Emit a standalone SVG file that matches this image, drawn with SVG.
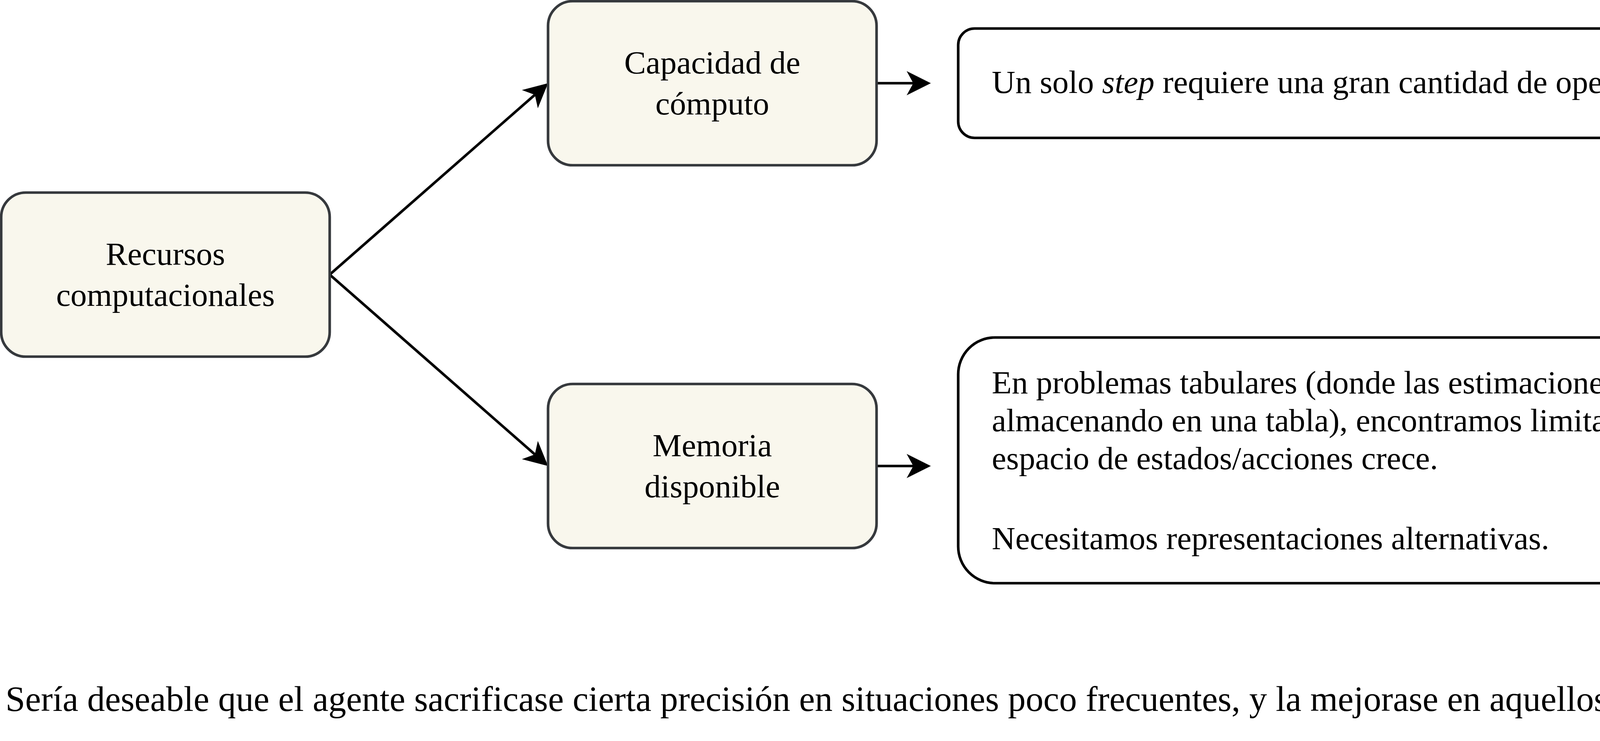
<svg xmlns="http://www.w3.org/2000/svg" width="5187" height="1897" viewBox="0 0 5187 1897">
  <style>
    .node rect { fill: #f9f7ed; stroke: #36393d; stroke-width: 6.7; }
    .note rect { fill: #ffffff; stroke: #000000; stroke-width: 6.7; }
    text { font-family: "Liberation Serif", "Times New Roman", serif; fill: #000000; }
    .nt { font-size: 83.3px; text-anchor: middle; }
    .bt { font-size: 83.3px; }
    .ft { font-size: 90.8px; }
    .edge { fill: none; stroke: #000000; stroke-width: 6.7; }
  </style>
  <defs>
    <marker id="arrow" markerUnits="userSpaceOnUse" viewBox="0 0 62 62" markerWidth="62" markerHeight="62" refX="17" refY="31" orient="auto">
      <path d="M62,31 L0,0 L17,31 L0,62 Z" fill="#000000"/>
    </marker>
  </defs>
  <rect x="0" y="0" width="5187" height="1897" fill="#ffffff"/>

  <g id="connectors">
    <line class="edge" x1="844" y1="703" x2="1369.2" y2="242.7" marker-end="url(#arrow)"/>
    <line class="edge" x1="844" y1="703" x2="1369.2" y2="1163.3" marker-end="url(#arrow)"/>
    <line class="edge" x1="2244" y1="213" x2="2338" y2="213" marker-end="url(#arrow)"/>
    <line class="edge" x1="2244" y1="1193" x2="2338" y2="1193" marker-end="url(#arrow)"/>
  </g>

  <g id="node-recursos" class="node">
    <rect x="3" y="493" width="841" height="420" rx="63" ry="63"/>
    <text class="nt"><tspan x="423.5" y="678">Recursos</tspan><tspan x="423.5" y="783">computacionales</tspan></text>
  </g>

  <g id="node-capacidad" class="node">
    <rect x="1403" y="3" width="841" height="420" rx="63" ry="63"/>
    <text class="nt"><tspan x="1823.5" y="188">Capacidad de</tspan><tspan x="1823.5" y="293">cómputo</tspan></text>
  </g>

  <g id="node-memoria" class="node">
    <rect x="1403" y="983" width="841" height="420" rx="63" ry="63"/>
    <text class="nt"><tspan x="1823.5" y="1168">Memoria</tspan><tspan x="1823.5" y="1273">disponible</tspan></text>
  </g>

  <g id="note-computo" class="note">
    <rect x="2453" y="73" width="2590" height="280" rx="42" ry="42"/>
    <text class="bt" x="2539" y="238">Un solo <tspan font-style="italic">step</tspan> requiere una gran cantidad de operaciones.</text>
  </g>

  <g id="note-memoria" class="note">
    <rect x="2453" y="864" width="2590" height="629" rx="94" ry="94"/>
    <text class="bt">
      <tspan x="2539" y="1007">En problemas tabulares (donde las estimaciones de los valores se van</tspan>
      <tspan x="2539" y="1104">almacenando en una tabla), encontramos limitaciones a medida que el</tspan>
      <tspan x="2539" y="1201">espacio de estados/acciones crece.</tspan>
      <tspan x="2539" y="1406">Necesitamos representaciones alternativas.</tspan>
    </text>
  </g>

  <g id="footer">
    <text class="ft" x="14" y="1820">Sería deseable que el agente sacrificase cierta precisión en situaciones poco frecuentes, y la mejorase en aquellos casos más comunes.</text>
  </g>
</svg>
